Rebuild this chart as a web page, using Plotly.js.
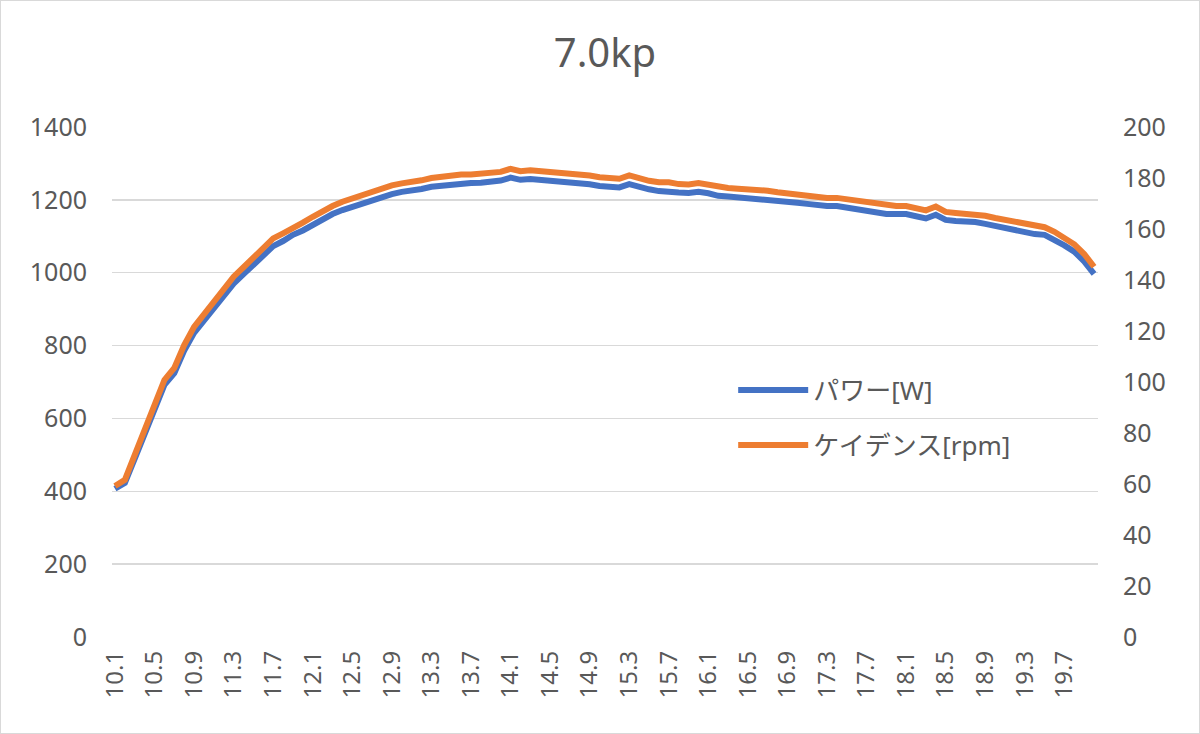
<!DOCTYPE html>
<html>
<head>
<meta charset="utf-8">
<script src="https://cdn.plot.ly/plotly-3.0.1.min.js"></script>
<style>
  body { margin: 0; background: #fff; }
  #chart { width: 1198px; height: 732px; border: 1px solid #d9d9d9; }
</style>
</head>
<body>
<div id="chart"></div>
<script>
// speed [km/h] categories, 10.1 .. 20.0
var speeds = ["10.1","10.2","10.3","10.4","10.5","10.6","10.7","10.8","10.9","11.0",
    "11.1","11.2","11.3","11.4","11.5","11.6","11.7","11.8","11.9","12.0",
    "12.1","12.2","12.3","12.4","12.5","12.6","12.7","12.8","12.9","13.0",
    "13.1","13.2","13.3","13.4","13.5","13.6","13.7","13.8","13.9","14.0",
    "14.1","14.2","14.3","14.4","14.5","14.6","14.7","14.8","14.9","15.0",
    "15.1","15.2","15.3","15.4","15.5","15.6","15.7","15.8","15.9","16.0",
    "16.1","16.2","16.3","16.4","16.5","16.6","16.7","16.8","16.9","17.0",
    "17.1","17.2","17.3","17.4","17.5","17.6","17.7","17.8","17.9","18.0",
    "18.1","18.2","18.3","18.4","18.5","18.6","18.7","18.8","18.9","19.0",
    "19.1","19.2","19.3","19.4","19.5","19.6","19.7","19.8","19.9","20.0"]

var power = [407, 423, 490, 558, 625, 692, 724, 786, 835, 870,
    906, 939, 970, 996, 1022, 1049, 1073, 1087, 1104, 1116,
    1132, 1148, 1161, 1172, 1181, 1193, 1202, 1208, 1216, 1222,
    1225, 1230, 1236, 1239, 1242, 1246, 1246, 1247, 1248, 1253,
    1261, 1255, 1257, 1255, 1253, 1251, 1248, 1245, 1243, 1238,
    1235, 1234, 1243, 1234, 1229, 1224, 1224, 1220, 1219, 1222,
    1218, 1211, 1209, 1207, 1206, 1204, 1202, 1198, 1194, 1192,
    1189, 1184, 1183, 1183, 1178, 1174, 1172, 1167, 1161, 1161,
    1161, 1155, 1149, 1159, 1145, 1142, 1141, 1139, 1134, 1128,
    1123, 1117, 1111, 1106, 1104, 1091, 1075, 1058, 1031, 997]

var cadence = [59.2, 61.6, 71.4, 81.2, 91.0, 100.8, 105.5, 114.5, 121.6, 126.7,
    131.9, 136.7, 141.3, 145.0, 148.9, 152.8, 156.3, 158.3, 160.7, 162.5,
    164.8, 167.2, 169.0, 170.7, 172.0, 173.7, 175.0, 175.9, 177.1, 177.9,
    178.4, 179.1, 180.0, 180.5, 180.8, 181.4, 181.4, 181.6, 181.8, 182.4,
    183.6, 182.7, 183.0, 182.7, 182.4, 182.2, 181.8, 181.3, 181.0, 180.3,
    179.9, 179.7, 181.0, 179.7, 178.9, 178.3, 178.3, 177.6, 177.5, 178.0,
    177.3, 176.4, 176.1, 175.8, 175.6, 175.4, 175.0, 174.4, 173.9, 173.6,
    173.1, 172.4, 172.2, 172.2, 171.6, 171.0, 170.7, 170.0, 169.1, 169.0,
    169.0, 168.2, 167.3, 168.8, 166.7, 166.3, 166.1, 165.9, 165.2, 164.3,
    163.6, 162.7, 161.8, 161.0, 160.7, 158.9, 156.6, 154.0, 150.2, 145.2]

var FONT = "'Noto Sans', 'Noto Sans CJK JP', sans-serif"
var GREY = "#595959"

Plotly.newPlot(
    document.getElementById("chart"),
    [{
        type: "scatter",
        mode: "lines",
        name: "パワー[W]",
        legendgroup: "a",
        x: speeds,
        y: power,
        line: { color: "#4472C4", width: 6 },
        yaxis: "y",
    }, {
        type: "scatter",
        mode: "lines",
        name: "ケイデンス[rpm]",
        legendgroup: "b",
        x: speeds,
        y: cadence,
        line: { color: "#ED7D31", width: 6 },
        yaxis: "y2",
    }],
    {
        width: 1198,
        height: 732,
        margin: { l: 111, r: 101, t: 126, b: 96 },
        paper_bgcolor: "#fff",
        plot_bgcolor: "#fff",
        hovermode: false,
        font: { family: FONT, color: GREY, size: 24 },
        title: {
            text: "7.0kp",
            font: { family: FONT, size: 40, color: GREY },
            x: 0.5,
            xref: "paper",
            y: 0.948,
            yref: "container",
            yanchor: "top",
        },
        xaxis: {
            type: "category",
            range: [-0.3, 99.4],
            tickmode: "array",
            tickvals: speeds.filter(function (s, i) { return i % 4 === 0 }),
            tickangle: -90,
            ticklabelstandoff: 8,
            showgrid: false,
            zeroline: false,
            showline: false,
            tickfont: { size: 24, color: GREY },
        },
        yaxis: {
            range: [0, 1400],
            dtick: 200,
            gridcolor: "#d9d9d9",
            gridwidth: 1.5,
            zeroline: false,
            showline: false,
            ticklabelstandoff: 24,
            tickfont: { size: 25, color: GREY },
        },
        yaxis2: {
            range: [0, 200],
            dtick: 20,
            overlaying: "y",
            side: "right",
            showgrid: false,
            zeroline: false,
            showline: false,
            ticklabelstandoff: 24,
            tickfont: { size: 25, color: GREY },
        },
        showlegend: true,
        legend: {
            x: 0.63,
            y: 0.53,
            xanchor: "left",
            yanchor: "top",
            bgcolor: "rgba(0,0,0,0)",
            traceorder: "grouped",
            tracegroupgap: 18,
            itemwidth: 70,
            font: { family: FONT, size: 26, color: GREY },
        },
    },
    { staticPlot: true }
)
</script>
</body>
</html>
